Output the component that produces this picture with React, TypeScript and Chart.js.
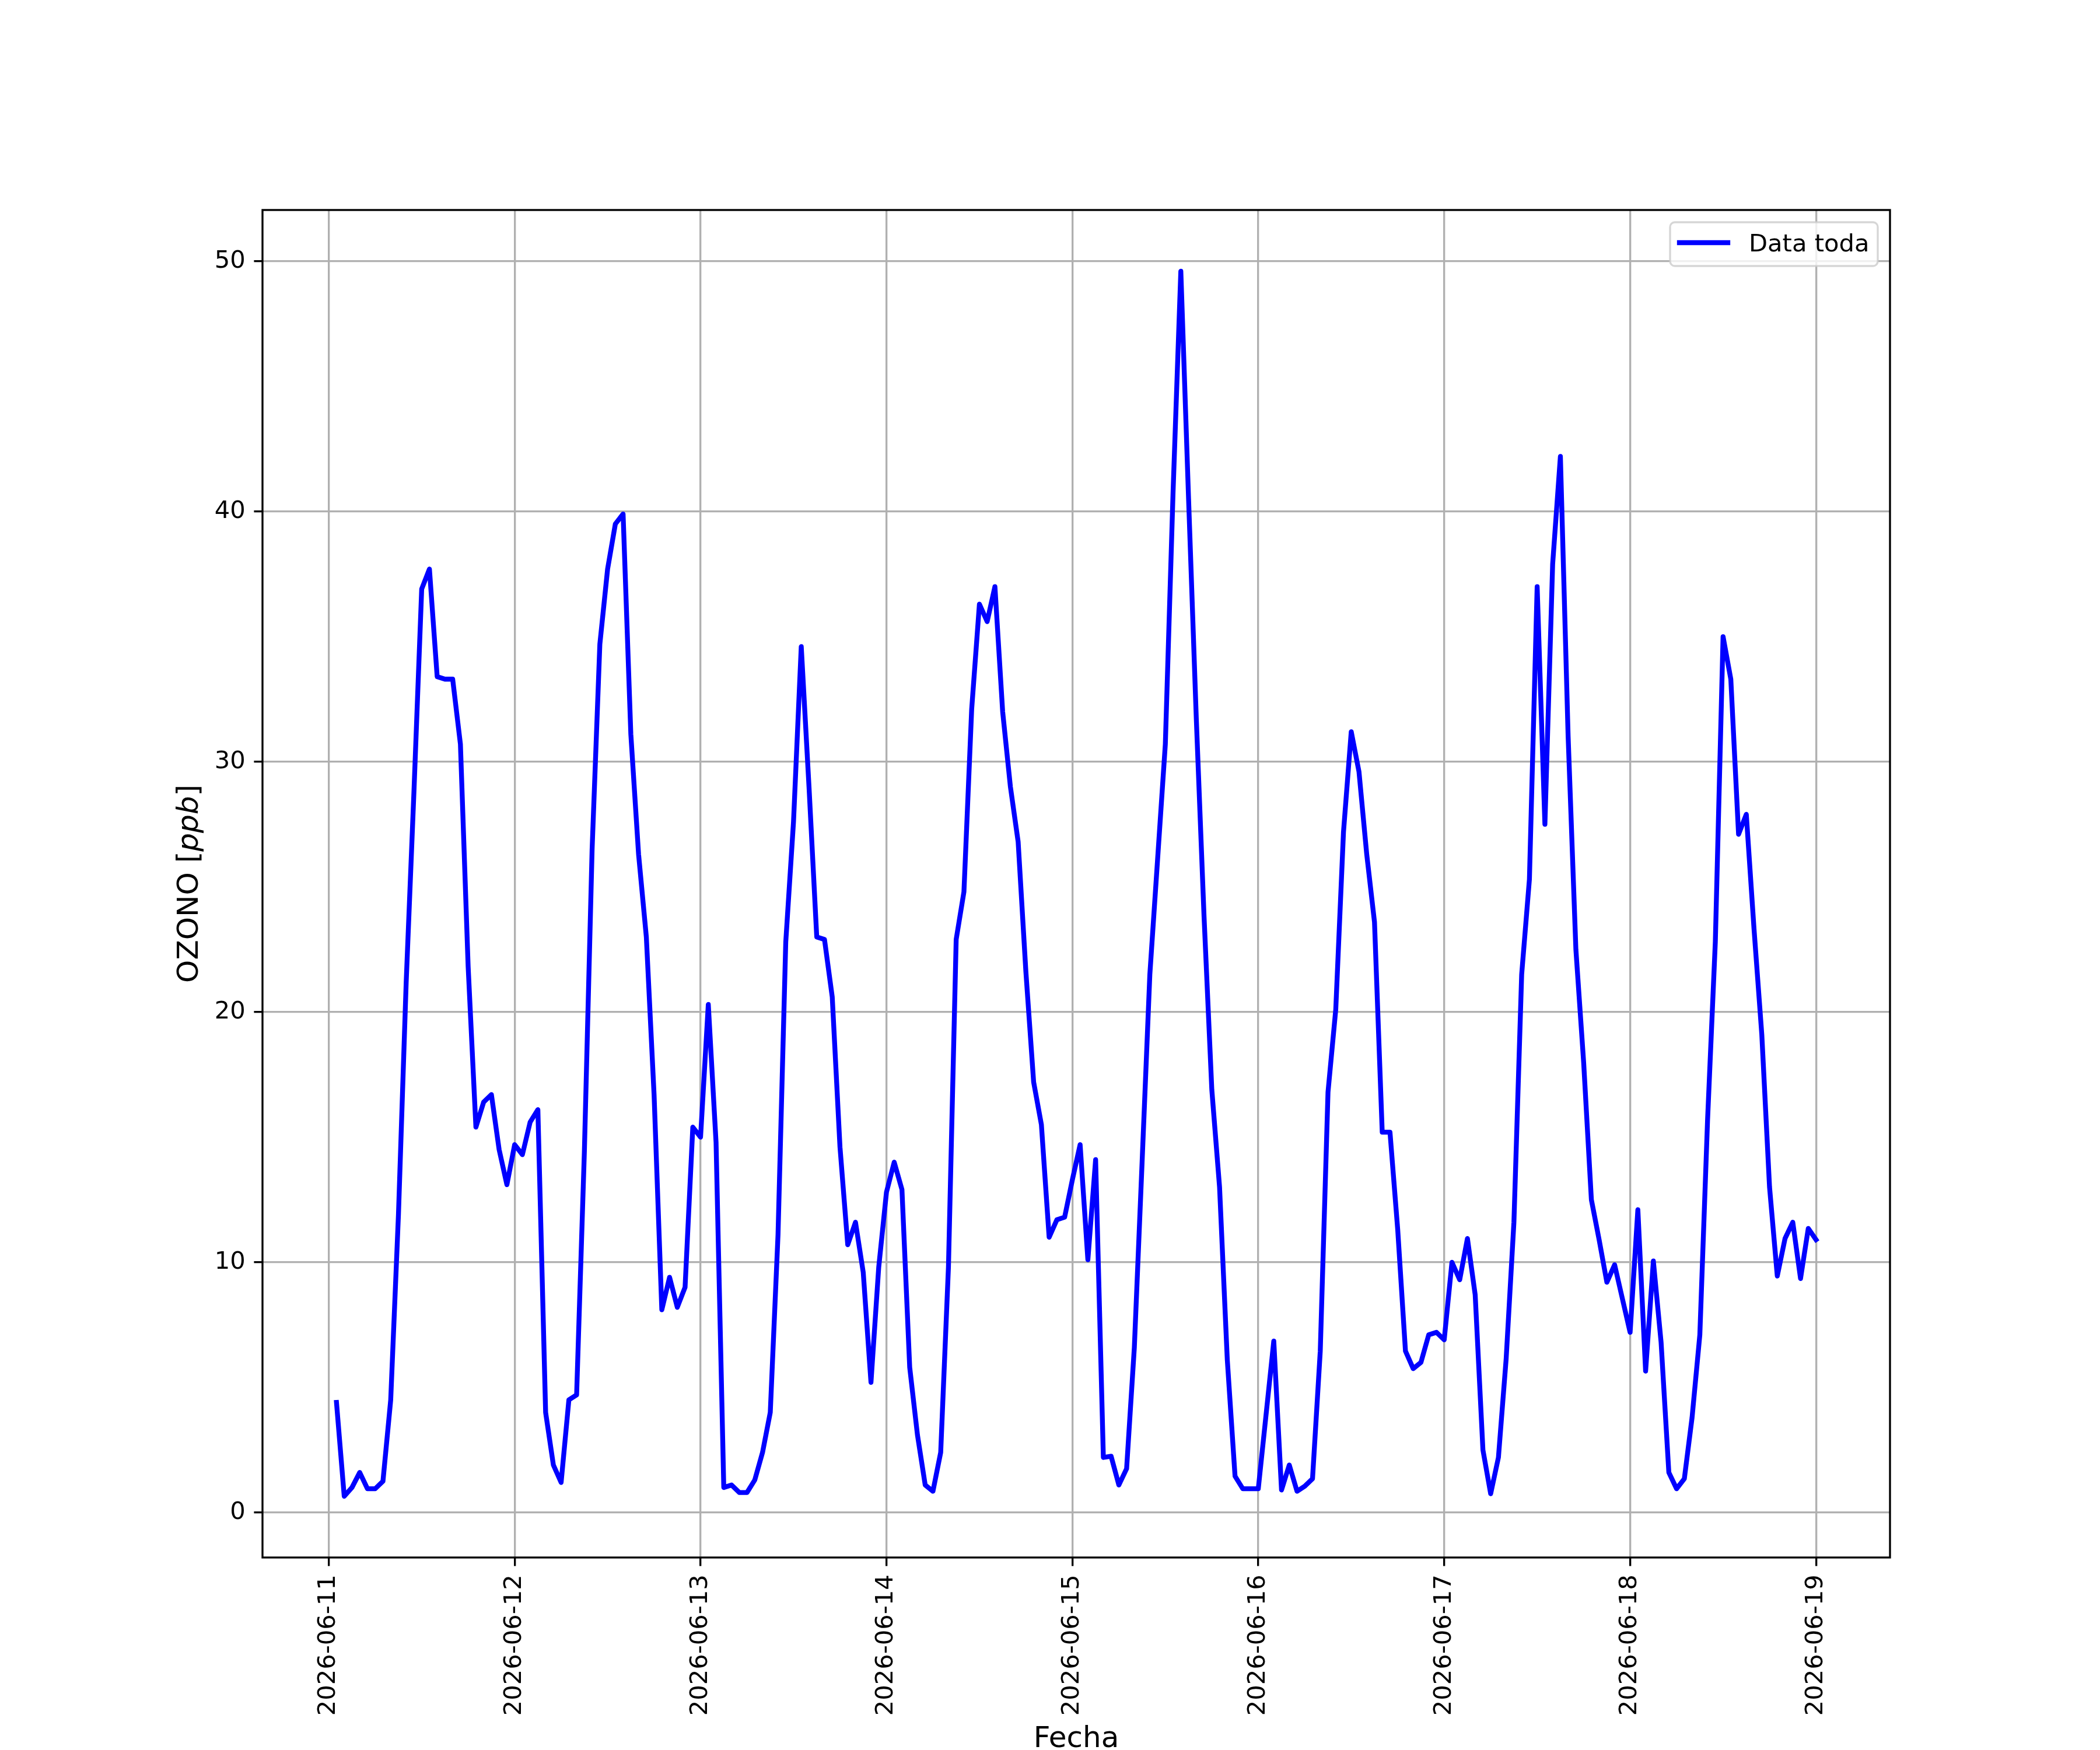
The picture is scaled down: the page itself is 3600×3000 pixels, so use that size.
import { useEffect, useRef } from "react";
import { Chart, registerables } from "chart.js";
Chart.register(...registerables);

// hourly ozone readings, 2026-06-11 01:00 .. 2026-06-19 00:00 (ppb)
const day1 = [4.4, 0.65, 1.0, 1.6, 0.95, 0.95, 1.25, 4.5, 11.9, 21.2, 28.8, 36.9, 37.7, 33.4, 33.3, 33.3, 30.7, 21.8, 15.4, 16.4, 16.7, 14.5, 13.1, 14.7];
const day2 = [14.3, 15.6, 16.1, 4.0, 1.9, 1.2, 4.5, 4.7, 14.4, 26.5, 34.7, 37.7, 39.5, 39.9, 31.1, 26.3, 23.0, 16.7, 8.1, 9.4, 8.2, 9.0, 15.4, 15.0];
const day3 = [20.3, 14.8, 1.0, 1.1, 0.8, 0.8, 1.3, 2.4, 4.0, 11.1, 22.8, 27.6, 34.6, 29.0, 23.0, 22.9, 20.6, 14.6, 10.7, 11.6, 9.6, 5.2, 9.8, 12.8];
const day4 = [14.0, 12.9, 5.8, 3.1, 1.1, 0.85, 2.4, 9.8, 22.9, 24.8, 32.1, 36.3, 35.6, 37.0, 32.0, 29.0, 26.8, 21.6, 17.2, 15.5, 11.0, 11.7, 11.8, 13.3];
const day5 = [14.7, 10.1, 14.1, 2.2, 2.25, 1.1, 1.75, 6.6, 14.0, 21.5, 26.1, 30.7, 40.8, 49.6, 40.5, 31.7, 23.8, 16.9, 13.0, 6.1, 1.45, 0.95, 0.95, 0.95];
const day6 = [3.9, 6.85, 0.9, 1.9, 0.85, 1.05, 1.35, 6.45, 16.8, 20.1, 27.2, 31.2, 29.6, 26.3, 23.6, 15.2, 15.2, 11.3, 6.45, 5.75, 6.0, 7.1, 7.2, 6.9];
const day7 = [10.0, 9.3, 10.95, 8.7, 2.5, 0.75, 2.2, 6.15, 11.6, 21.5, 25.3, 37.0, 27.5, 37.9, 42.2, 31.0, 22.5, 18.0, 12.5, 10.9, 9.2, 9.9, 8.55, 7.2];
const day8 = [12.1, 5.65, 10.05, 6.8, 1.6, 0.95, 1.35, 3.8, 7.1, 15.7, 22.8, 35.0, 33.3, 27.1, 27.9, 23.3, 19.1, 13.0, 9.45, 10.95, 11.6, 9.35, 11.35, 10.9];
const ozone = [...day1, ...day2, ...day3, ...day4, ...day5, ...day6, ...day7, ...day8];

const dateTicks = ["2026-06-11", "2026-06-12", "2026-06-13", "2026-06-14", "2026-06-15", "2026-06-16", "2026-06-17", "2026-06-18", "2026-06-19"];
const yTicks = [0, 10, 20, 30, 40, 50];

const FONT = "'DejaVu Sans', sans-serif";
const FS = 41.67; // 10pt @ 300dpi
const FS_LABEL = 50; // 12pt
const LW = 3.33;

const decor = {
  id: "decor",
  afterDraw(chart: any) {
    const { ctx, chartArea: a } = chart;
    ctx.save();
    // frame
    ctx.strokeStyle = "#000";
    ctx.lineWidth = LW;
    ctx.strokeRect(a.left, a.top, a.right - a.left, a.bottom - a.top);

    // legend
    ctx.beginPath();
    ctx.roundRect(2863, 381, 356, 75, 8);
    ctx.fillStyle = "rgba(255,255,255,0.8)";
    ctx.fill();
    ctx.strokeStyle = "rgba(204,204,204,0.8)";
    ctx.lineWidth = LW;
    ctx.stroke();
    ctx.beginPath();
    ctx.moveTo(2879, 416);
    ctx.lineTo(2962, 416);
    ctx.strokeStyle = "#0000ff";
    ctx.lineWidth = 8.33;
    ctx.lineCap = "square";
    ctx.stroke();
    ctx.fillStyle = "#000";
    ctx.font = `${FS}px ${FONT}`;
    ctx.textBaseline = "alphabetic";
    ctx.textAlign = "left";
    ctx.fillText("Data toda", 2998, 431);

    // x title
    ctx.font = `${FS_LABEL}px ${FONT}`;
    ctx.textAlign = "center";
    ctx.fillText("Fecha", (a.left + a.right) / 2, 2995);

    // y title with italic unit
    const p1 = "OZONO [";
    const p2 = "ppb";
    const p3 = "]";
    const w1 = ctx.measureText(p1).width;
    const w3 = ctx.measureText(p3).width;
    ctx.font = `italic ${FS_LABEL}px ${FONT}`;
    const w2 = ctx.measureText(p2).width;
    const total = w1 + w2 + w3;
    ctx.translate(339, (a.top + a.bottom) / 2);
    ctx.rotate(-Math.PI / 2);
    ctx.textAlign = "left";
    let x = -total / 2;
    ctx.font = `${FS_LABEL}px ${FONT}`;
    ctx.fillText(p1, x, 0);
    x += w1;
    ctx.font = `italic ${FS_LABEL}px ${FONT}`;
    ctx.fillText(p2, x, 0);
    x += w2;
    ctx.font = `${FS_LABEL}px ${FONT}`;
    ctx.fillText(p3, x, 0);
    ctx.restore();
  },
};

function OzoneChart() {
  const canvasRef = useRef<HTMLCanvasElement | null>(null);
  const chartRef = useRef<Chart | null>(null);

  useEffect(() => {
    document.body.style.margin = "0";
    const ctx = canvasRef.current?.getContext("2d");
    if (chartRef.current) chartRef.current.destroy();
    if (!ctx) return;

    const points = ozone.map((v, i) => ({ x: i + 1, y: v }));
    const n = ozone.length;
    const xMargin = (n - 1) * 0.05;
    const yMin = Math.min(...ozone);
    const yMax = Math.max(...ozone);
    const yMargin = (yMax - yMin) * 0.05;

    chartRef.current = new Chart(ctx, {
      type: "line",
      data: {
        datasets: [
          {
            label: "Data toda",
            data: points,
            borderColor: "#0000ff",
            borderWidth: 8.33,
            borderCapStyle: "square",
            borderJoinStyle: "round",
            pointRadius: 0,
            tension: 0,
            fill: false,
          },
        ],
      },
      options: {
        animation: false,
        responsive: false,
        devicePixelRatio: 1,
        layout: { padding: { top: 360, right: 360, left: 0, bottom: 0 } },
        plugins: { legend: { display: false }, tooltip: { enabled: false } },
        scales: {
          x: {
            type: "linear",
            min: 1 - xMargin,
            max: n + xMargin,
            afterBuildTicks: (s: any) => {
              s.ticks = dateTicks.map((_, i) => ({ value: i * 24 }));
            },
            afterFit: (s: any) => {
              s.height = 330;
            },
            ticks: {
              autoSkip: false,
              minRotation: 90,
              maxRotation: 90,
              padding: 14.6,
              color: "#000",
              font: { family: FONT, size: FS },
              callback: (v: any) => dateTicks[Math.round(Number(v) / 24)],
            },
            grid: {
              color: "#b0b0b0",
              lineWidth: LW,
              tickColor: "#000",
              tickWidth: LW,
              tickLength: 14.6,
            },
            border: { display: false },
          },
          y: {
            type: "linear",
            min: yMin - yMargin,
            max: yMax + yMargin,
            afterBuildTicks: (s: any) => {
              s.ticks = yTicks.map((v) => ({ value: v }));
            },
            afterFit: (s: any) => {
              s.width = 450;
            },
            ticks: {
              padding: 14.6,
              color: "#000",
              font: { family: FONT, size: FS },
              callback: (v: any) => String(v),
            },
            grid: {
              color: "#b0b0b0",
              lineWidth: LW,
              tickColor: "#000",
              tickWidth: LW,
              tickLength: 14.6,
            },
            border: { display: false },
          },
        },
      },
      plugins: [decor],
    });

    return () => {
      if (chartRef.current) {
        chartRef.current.destroy();
        chartRef.current = null;
      }
    };
  }, []);

  return <canvas ref={canvasRef} width={3600} height={3000} style={{ width: 3600, height: 3000, display: "block" }} />;
}

export default function App() {
  return (
    <div style={{ width: 3600, height: 3000, background: "#fff" }}>
      <OzoneChart />
    </div>
  );
}
